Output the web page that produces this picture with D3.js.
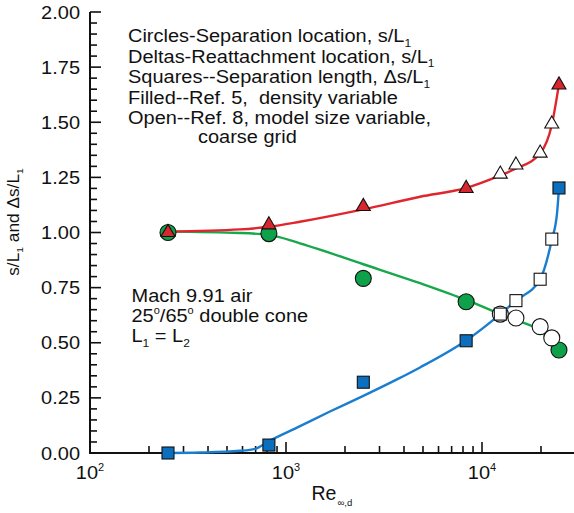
<!DOCTYPE html>
<html>
<head>
<meta charset="utf-8">
<script src="https://cdn.jsdelivr.net/npm/d3@7"></script>
<style>
  html, body { margin: 0; padding: 0; background: #fff; }
  svg { display: block; font-family: "Liberation Sans", Arial, Helvetica, sans-serif; }
</style>
</head>
<body>
<svg id="chart" width="574" height="513"></svg>
<script>
// ---- Ref. 5 (filled symbols, density variable) ----
const reRef5   = [250, 818, 2480, 8300, 24700];
const sepRef5  = [1.00, 0.995, 0.792, 0.686, 0.467];   // circles
const reatRef5 = [1.00, 1.035, 1.118, 1.200, 1.669];   // deltas
const lenRef5  = [0.00, 0.036, 0.321, 0.509, 1.202];   // squares

// ---- Ref. 8 (open symbols, model size variable, coarse grid) ----
const reRef8   = [12400, 14900, 19800, 22700];
const sepRef8  = [0.630, 0.612, 0.573, 0.522];
const reatRef8 = [1.265, 1.306, 1.360, 1.492];
const lenRef8  = [0.630, 0.691, 0.788, 0.970];

// ---- faired curves through the data ----
const fitReatRe = [250, 582, 818, 1178, 2480, 4830, 8300, 12400, 14900, 19800, 22700, 24700];
const fitReat   = [1.004, 1.014, 1.026, 1.049, 1.105, 1.162, 1.202, 1.259, 1.290, 1.359, 1.488, 1.673];
const fitSepRe  = [250, 582, 818, 1178, 2480, 4830, 8300, 12400, 14900, 19800, 22700, 24700];
const fitSep    = [1.004, 0.998, 0.989, 0.951, 0.856, 0.770, 0.694, 0.630, 0.603, 0.558, 0.522, 0.467];
const fitLenRe  = [250, 364, 582, 695, 818, 1137, 1675, 2480, 3726, 4830, 8300, 12400, 14900, 19800, 22700, 24150, 24700];
const fitLen    = [0.000, 0.002, 0.010, 0.019, 0.054, 0.115, 0.188, 0.259, 0.336, 0.388, 0.510, 0.630, 0.691, 0.788, 0.966, 1.088, 1.200];

// ---- axes ----
const yMajor = [0, 0.25, 0.5, 0.75, 1.0, 1.25, 1.5, 1.75, 2.0];
const yMajorLabels = ["0.00", "0.25", "0.50", "0.75", "1.00", "1.25", "1.50", "1.75", "2.00"];
const xMajor = [100, 1000, 10000];
const xMajorExp = ["2", "3", "4"];

// ---- annotation text (segments: [text, "", "sub" or "sup"]) ----
const legendLines = [
  [["Circles-Separation location, s/L", ""], ["1", "sub"]],
  [["Deltas-Reattachment location, s/L", ""], ["1", "sub"]],
  [["Squares--Separation length, \u0394s/L", ""], ["1", "sub"]],
  [["Filled--Ref. 5,\u00a0 density variable", ""]],
  [["Open--Ref. 8, model size variable,", ""]]
];
const legendTail = "coarse grid";
const caseLines = [
  [["Mach 9.91 air", ""]],
  [["25", ""], ["o", "sup"], ["/65", ""], ["o", "sup"], [" double cone", ""]],
  [["L", ""], ["1", "sub"], [" = L", ""], ["2", "sub"]]
];

const colors = { sep: "#0fa14a", reat: "#d7262e", len: "#0b6fc0" };
const lineColors = { sep: "#17a84c", reat: "#e0252d", len: "#1a7ed0" };

const svg = d3.select("#chart");

const x = d3.scaleLog().domain([100, 30000]).range([90, 90 + 196 * Math.log10(300)]);
const y = d3.scaleLinear().domain([0, 2]).range([453, 12]);

// text face runs a little wider than the stock metrics
const STRETCH = 1.08;

// rich text helper with sub/superscripts
function richText(sel, xPos, yPos, segs, size, anchor, stretch) {
  const sx = stretch === undefined ? STRETCH : stretch;
  const g = sel.append("g").attr("transform", `translate(${xPos},${yPos}) scale(${sx},1)`);
  const t = g.append("text")
    .attr("x", 0).attr("y", 0)
    .attr("font-size", size)
    .attr("fill", "#111")
    .attr("text-anchor", anchor || "start")
    .style("white-space", "pre");
  let shift = 0;
  segs.forEach(([s, kind]) => {
    const ts = t.append("tspan").text(s);
    let target = 0;
    if (kind === "sub") { ts.attr("font-size", size * 0.6); target = size * 0.25; }
    else if (kind === "sup") { ts.attr("font-size", size * 0.55); target = -size * 0.42; }
    const dy = target - shift;
    if (dy !== 0) ts.attr("dy", dy);
    shift = target;
  });
  return t;
}

// ---- axis lines and ticks ----
const axis = svg.append("g").attr("stroke", "#111").attr("fill", "none");
axis.append("line").attr("x1", 90).attr("x2", 90).attr("y1", y(2)).attr("y2", y(0)).attr("stroke-width", 2);
axis.append("line").attr("x1", 89).attr("x2", 574).attr("y1", y(0)).attr("y2", y(0)).attr("stroke-width", 2);

// y ticks every 0.05, majors every 0.25
d3.range(0, 2.0001, 0.05).forEach(v => {
  const major = yMajor.some(m => Math.abs(m - v) < 1e-6);
  axis.append("line")
    .attr("x1", 90).attr("x2", 90 + (major ? 11 : 7))
    .attr("y1", y(v)).attr("y2", y(v))
    .attr("stroke-width", 1.6);
});

// x ticks: decades and 2..9 within each
const xTickVals = [];
[100, 1000, 10000].forEach(d => { for (let k = 1; k <= 9; k++) if (d * k <= 29000) xTickVals.push(d * k); });
xTickVals.forEach(v => {
  const major = xMajor.includes(v);
  if (v === 100) return;
  axis.append("line")
    .attr("x1", x(v)).attr("x2", x(v))
    .attr("y1", y(0)).attr("y2", y(0) - (major ? 11 : 7))
    .attr("stroke-width", 1.6);
});

// y tick labels
yMajor.forEach((v, i) => {
  richText(svg, 80, y(v) + 6.5, [[yMajorLabels[i], ""]], 18.5, "end");
});

// x tick labels (powers of ten)
xMajor.forEach((v, i) => {
  richText(svg, x(v), 478.5, [["10", ""], [xMajorExp[i], "sup"]], 18.5, "middle");
});

// axis titles
richText(svg, 311.5, 499.5, [["Re", ""]], 19.5, "start", 1);
richText(svg, 337.5, 506, [["\u221e,d", ""]], 9.5, "start", 1);

const yTitle = svg.append("g").attr("transform", "translate(19,222) rotate(-90)");
richText(yTitle, 0, 0, [["s/L", ""], ["1", "sub"], [" and \u0394s/L", ""], ["1", "sub"]], 16, "middle");

// ---- faired curves ----
const line = d3.line().x(d => x(d[0])).y(d => y(d[1])).curve(d3.curveMonotoneX);
const curves = [
  [fitSepRe, fitSep, lineColors.sep],
  [fitLenRe, fitLen, lineColors.len],
  [fitReatRe, fitReat, lineColors.reat]
];
curves.forEach(([xs, ys, c]) => {
  svg.append("path")
    .datum(xs.map((v, i) => [v, ys[i]]))
    .attr("d", line)
    .attr("fill", "none")
    .attr("stroke", c)
    .attr("stroke-width", 2.4);
});

// ---- symbols ----
const tri = d3.symbol().type(d3.symbolTriangle).size(85);
const mk = svg.append("g").attr("stroke", "#111").attr("stroke-width", 1.1);

function circles(res, vals, fill) {
  res.forEach((r, i) => mk.append("circle").attr("cx", x(r)).attr("cy", y(vals[i])).attr("r", 8).attr("fill", fill));
}
function triangles(res, vals, fill) {
  res.forEach((r, i) => mk.append("path").attr("d", tri()).attr("transform", `translate(${x(r)},${y(vals[i])})`).attr("fill", fill));
}
function squares(res, vals, fill) {
  res.forEach((r, i) => mk.append("rect").attr("x", x(r) - 6).attr("y", y(vals[i]) - 6).attr("width", 12).attr("height", 12).attr("fill", fill));
}

circles(reRef5, sepRef5, colors.sep);
circles(reRef8, sepRef8, "#fff");
triangles(reRef5, reatRef5, colors.reat);
triangles(reRef8, reatRef8, "#fff");
squares(reRef5, lenRef5, colors.len);
squares(reRef8, lenRef8, "#fff");

// ---- annotations ----
legendLines.forEach((segs, i) => richText(svg, 128, 42 + i * 20.5, segs, 18.5));
richText(svg, 198, 143, [[legendTail, ""]], 18.5);
caseLines.forEach((segs, i) => richText(svg, 131.5, 301.5 + i * 20.3, segs, 18.5));
</script>
</body>
</html>
